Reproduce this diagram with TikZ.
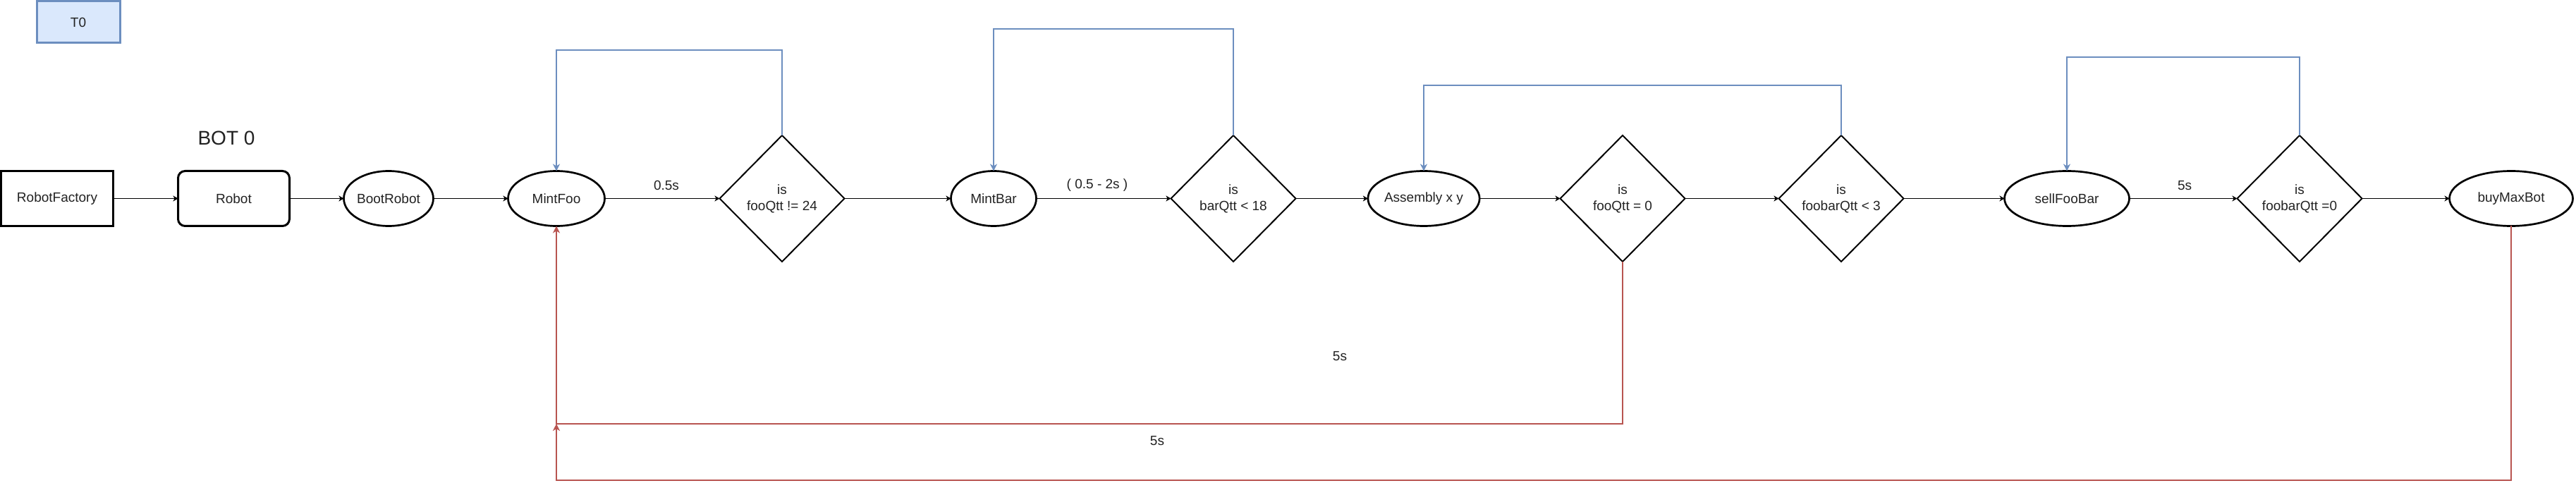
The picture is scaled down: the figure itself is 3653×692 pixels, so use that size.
\documentclass[tikz,border=0pt]{standalone}
\usepackage{fontspec}
\setmainfont{Liberation Sans}
\usetikzlibrary{shapes.geometric,arrows.meta}
\definecolor{lblue}{HTML}{6C8EBF}
\definecolor{lfill}{HTML}{DAE8FC}
\definecolor{lred}{HTML}{B85450}
\definecolor{txt}{HTML}{222222}
\begin{document}
\begin{tikzpicture}[x=1pt,y=-1pt,
  every node/.style={font=\fontsize{19}{23}\selectfont, text=txt, inner sep=0pt, outer sep=0pt},
  boxnode/.style={draw, rectangle, line width=3pt, minimum height=78pt},
  roundnode/.style={draw, rectangle, rounded corners=10pt, line width=3pt, minimum height=78pt},
  ellnode/.style={draw, ellipse, line width=2.7pt, minimum height=78pt},
  decnode/.style={draw, diamond, line width=2pt, minimum width=177pt, minimum height=179pt, align=center},
  flow/.style={line width=1.4pt, -{Stealth[length=7pt,width=8pt,inset=2pt]}},
  bloop/.style={draw=lblue, line width=1.6pt, -{Stealth[length=10pt,width=10pt,inset=3pt]}},
  rloop/.style={draw=lred, line width=1.6pt, -{Stealth[length=10pt,width=10pt,inset=3pt]}},
  lbl/.style={font=\fontsize{19}{23}\selectfont}
]
\useasboundingbox (0,0) rectangle (3653,692);
\fill[white] (0,0) rectangle (3653,692);

\node[draw=lblue, fill=lfill, line width=3pt, minimum width=118pt, minimum height=59pt] (t0) at (111,31.5) {T0};
\node[font=\fontsize{28}{32}\selectfont] (bot) at (321,196) {BOT 0};

\node[boxnode, minimum width=159pt] (rf) at (81,281.5) {RobotFactory};
\node[roundnode, minimum width=158pt] (robot) at (331.5,281.5) {Robot};
\node[ellnode, minimum width=115pt] (boot) at (551,281.5) {BootRobot};
\node[ellnode, minimum width=137pt] (mfoo) at (789,281.5) {MintFoo};
\node[decnode] (d1) at (1109,281.5) {is\\fooQtt != 24};
\node[ellnode, minimum width=121pt] (mbar) at (1409,281.5) {MintBar};
\node[decnode] (d2) at (1749,281.5) {is\\barQtt < 18};
\node[ellnode, minimum width=135pt] (asm) at (2019,281.5) {Assembly x y};
\node[decnode] (d3) at (2301,281.5) {is\\fooQtt = 0};
\node[decnode] (d4) at (2611,281.5) {is\\foobarQtt < 3};
\node[ellnode, minimum width=177pt] (sell) at (2931,281.5) {sellFooBar};
\node[decnode] (d5) at (3261,281.5) {is\\foobarQtt =0};
\node[ellnode, minimum width=175pt] (buy) at (3561,281.5) {buyMaxBot};

\draw[flow] (rf) -- (robot);
\draw[flow] (robot) -- (boot);
\draw[flow] (boot) -- (mfoo);
\draw[flow] (mfoo) -- (d1);
\draw[flow] (d1) -- (mbar);
\draw[flow] (mbar) -- (d2);
\draw[flow] (d2) -- (asm);
\draw[flow] (asm) -- (d3);
\draw[flow] (d3) -- (d4);
\draw[flow] (d4) -- (sell);
\draw[flow] (sell) -- (d5);
\draw[flow] (d5) -- (buy);

\node[lbl] (l1) at (945,263) {0.5s};
\node[lbl] (l2) at (1556,263) {( 0.5 - 2s )};
\node[lbl] (l3) at (3098,263) {5s};
\node[lbl] (l4) at (1900,505) {5s};
\node[lbl] (l5) at (1641,625) {5s};

\draw[bloop] (d1.north) -- (1109,71) -- (789,71) -- (mfoo.north);
\draw[bloop] (d2.north) -- (1749,41) -- (1409,41) -- (mbar.north);
\draw[bloop] (d4.north) -- (2611,121) -- (2019,121) -- (asm.north);
\draw[bloop] (d5.north) -- (3261,81) -- (2931,81) -- (sell.north);

\coordinate (rj) at (789,601);
\draw[rloop] (d3.south) -- (2301,601) -- (rj) -- (mfoo.south);
\draw[rloop] (buy.south) -- (3561,681) -- (789,681) -- (rj);
\end{tikzpicture}
\end{document}
